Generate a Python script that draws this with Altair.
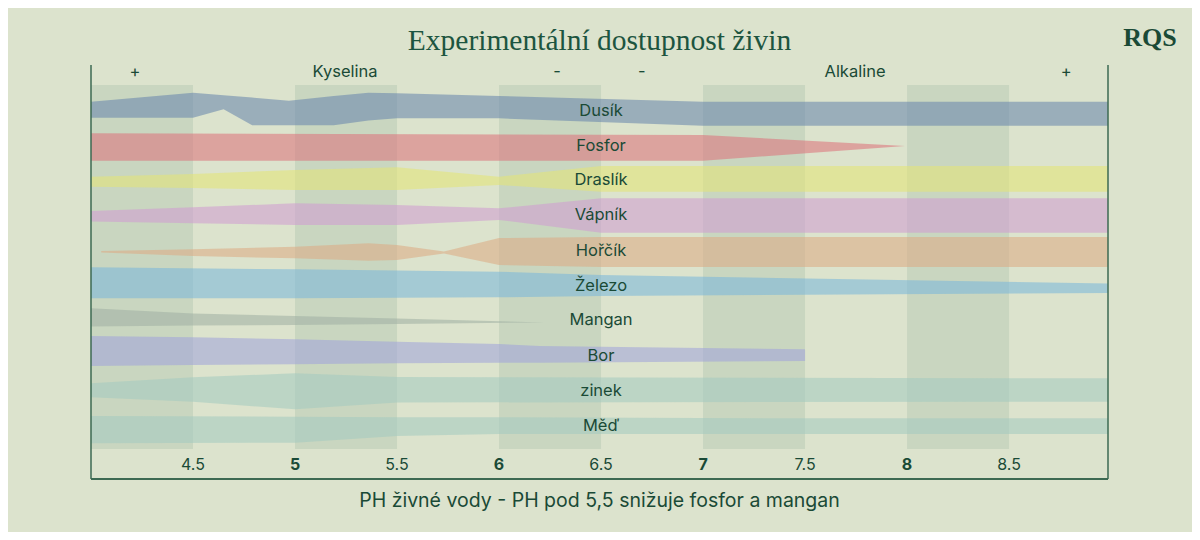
import altair as alt
import pandas as pd

# ---------------- data (y in chart units measured from the plot top, downward) ----------------
nutrients = ["Dusík", "Fosfor", "Draslík", "Vápník", "Hořčík", "Železo", "Mangan", "Bor", "zinek", "Měď"]
colors = ["#6483ac", "#dc6f79", "#e3e572", "#cf9ad2", "#dca981", "#76b7db", "#9eaea3", "#9ea2da", "#a2cac0", "#a2cac0"]

dusik_ph = [4.0, 4.5, 4.65, 4.79, 4.97, 5.19, 5.36, 5.5, 6.0, 7.0, 8.985]
dusik_top = [36.7, 27.7, 30.3, 32.6, 35.7, 31.0, 27.7, 28.3, 31.0, 36.7, 36.7]
dusik_bot = [52.7, 52.7, 44.3, 60.3, 60.3, 60.3, 55.5, 53.3, 53.3, 60.7, 60.7]

fosfor_ph = [4.0, 7.0, 7.99]
fosfor_top = [68.3, 70.0, 81.0]
fosfor_bot = [95.7, 95.7, 81.0]

draslik_ph = [4.0, 4.5, 5.0, 5.5, 6.0, 6.5, 8.985]
draslik_top = [111.7, 109.0, 105.0, 102.3, 111.7, 101.0, 101.0]
draslik_bot = [121.7, 123.0, 125.0, 125.0, 120.0, 126.7, 126.7]

vapnik_ph = [4.0, 4.5, 5.0, 5.5, 6.0, 6.5, 8.985]
vapnik_top = [146.0, 142.3, 138.3, 140.0, 143.3, 133.3, 133.3]
vapnik_bot = [156.5, 158.3, 160.0, 160.0, 155.0, 167.7, 167.7]

horcik_ph = [4.05, 4.5, 5.0, 5.36, 5.5, 5.73, 6.0, 6.5, 8.985]
horcik_top = [186.0, 184.3, 181.7, 178.3, 180.0, 186.5, 173.0, 172.0, 172.0]
horcik_bot = [187.5, 191.0, 193.3, 195.7, 195.0, 188.5, 200.0, 202.0, 202.0]

zelezo_ph = [4.0, 5.0, 6.0, 6.5, 8.985]
zelezo_top = [202.3, 204.3, 206.7, 210.0, 218.5]
zelezo_bot = [233.3, 233.3, 232.3, 231.0, 228.0]

mangan_ph = [4.0, 4.5, 5.0, 5.5, 6.22]
mangan_top = [243.3, 248.5, 251.0, 253.5, 257.5]
mangan_bot = [261.5, 260.5, 260.0, 259.0, 257.5]

bor_ph = [4.0, 4.5, 5.0, 5.5, 6.0, 6.2, 7.5]
bor_top = [271.0, 272.3, 274.3, 276.7, 279.0, 281.0, 284.3]
bor_bot = [301.0, 300.0, 299.3, 298.3, 297.7, 297.7, 296.0]

zinek_ph = [4.0, 4.5, 5.0, 5.5, 8.985]
zinek_top = [318.3, 312.3, 308.3, 312.0, 313.3]
zinek_bot = [332.3, 336.7, 344.3, 337.5, 336.7]

med_ph = [4.0, 5.0, 5.5, 6.0, 7.3, 8.985]
med_top = [351.0, 351.7, 352.3, 352.3, 353.3, 353.3]
med_bot = [378.3, 377.7, 371.0, 369.0, 369.0, 369.0]

label_ph = 6.5
label_y = [46, 81, 115, 150, 186, 221, 255, 291, 326, 361]

band_start = [4.0, 5.0, 6.0, 7.0, 8.0]
band_end = [4.5, 5.5, 6.5, 7.5, 8.5]

top_texts = ["+", "Kyselina", "-", "-", "Alkaline", "+"]
top_ph = [4.216, 5.245, 6.284, 6.70, 7.745, 8.78]

tick_vals = [4.5, 5, 5.5, 6, 6.5, 7, 7.5, 8, 8.5]
tick_labels = ["4.5", "5", "5.5", "6", "6.5", "7", "7.5", "8", "8.5"]
tick_bold = [False, True, False, True, False, True, False, True, False]

title_text = "Experimentální dostupnost živin"
axis_title = "PH živné vody - PH pod 5,5 snižuje fosfor a mangan"

# ---------------- build tables ----------------
series = [
    (dusik_ph, dusik_top, dusik_bot), (fosfor_ph, fosfor_top, fosfor_bot),
    (draslik_ph, draslik_top, draslik_bot), (vapnik_ph, vapnik_top, vapnik_bot),
    (horcik_ph, horcik_top, horcik_bot), (zelezo_ph, zelezo_top, zelezo_bot),
    (mangan_ph, mangan_top, mangan_bot), (bor_ph, bor_top, bor_bot),
    (zinek_ph, zinek_top, zinek_bot), (med_ph, med_top, med_bot),
]

XMIN, XMAX = 4.0, 8.985
W, H = 1017, 414
xs = alt.Scale(domain=[XMIN, XMAX], nice=False, zero=False)
ys = alt.Scale(domain=[0, H], nice=False, zero=False, reverse=True)
TXT = "#1a4a36"

cols_df = pd.DataFrame({"x": band_start, "x2": band_end, "y": [20] * 5, "y2": [384] * 5})
columns = alt.Chart(cols_df).mark_rect(color="#c9d6c0").encode(
    x=alt.X("x:Q", scale=xs, axis=None), x2="x2:Q", y=alt.Y("y:Q", scale=ys, axis=None), y2="y2:Q"
)

area_layers = []
for name, col, (ph, t, b) in zip(nutrients, colors, series):
    df = pd.DataFrame({"ph": ph, "top": t, "bot": b})
    area_layers.append(
        alt.Chart(df).mark_area(color=col, opacity=0.55, interpolate="linear").encode(
            x=alt.X("ph:Q", scale=xs, axis=None),
            y=alt.Y("top:Q", scale=ys, axis=None, stack=None),
            y2=alt.Y2("bot"),
        )
    )

labels_df = pd.DataFrame({"nutrient": nutrients, "ph": [label_ph] * len(nutrients), "y": label_y})
top_df = pd.DataFrame({"t": top_texts, "ph": top_ph, "y": [7] * len(top_texts)})
ticks_df = pd.DataFrame({"v": tick_vals, "t": tick_labels, "b": tick_bold, "y": [400] * len(tick_vals)})

band_labels = alt.Chart(labels_df).mark_text(
    font="Inter", fontSize=16.5, fontWeight="normal", color=TXT, align="center", baseline="middle"
).encode(x=alt.X("ph:Q", scale=xs), y=alt.Y("y:Q", scale=ys), text="nutrient:N")

top_labels = alt.Chart(top_df).mark_text(
    font="Inter", fontSize=16.5, fontWeight="normal", color=TXT, align="center", baseline="middle"
).encode(x=alt.X("ph:Q", scale=xs), y=alt.Y("y:Q", scale=ys), text="t:N")

tick_normal = alt.Chart(ticks_df).transform_filter("!datum.b").mark_text(
    font="Inter", fontSize=16, color=TXT, align="center", baseline="middle"
).encode(x=alt.X("v:Q", scale=xs), y=alt.Y("y:Q", scale=ys), text="t:N")

tick_boldm = alt.Chart(ticks_df).transform_filter("datum.b").mark_text(
    font="Inter", fontSize=16, fontWeight="bold", color=TXT, align="center", baseline="middle"
).encode(x=alt.X("v:Q", scale=xs), y=alt.Y("y:Q", scale=ys), text="t:N")

axis_title_mark = alt.Chart(pd.DataFrame({"t": [axis_title]})).mark_text(
    font="Inter", fontSize=19.5, color=TXT, align="center", baseline="middle"
).encode(x=alt.value(W / 2), y=alt.value(436), text="t:N")

title_mark = alt.Chart(pd.DataFrame({"t": [title_text]})).mark_text(
    font="Liberation Serif", fontSize=29.5, color="#1d5540", align="center", baseline="alphabetic"
).encode(x=alt.value(W / 2), y=alt.value(-15), text="t:N")

logo = alt.Chart(pd.DataFrame({"t": ["RQS"]})).mark_text(
    font="Liberation Serif", fontSize=26, fontWeight="bold", color=TXT, align="center", baseline="middle"
).encode(x=alt.value(1059), y=alt.value(-27), text="t:N")

frame_color = "#3d6a52"
one = pd.DataFrame({"a": [0]})
left_rule = alt.Chart(one).mark_rule(color=frame_color, strokeWidth=1.5).encode(
    x=alt.value(0), y=alt.value(0), y2=alt.value(H)
)
right_rule = alt.Chart(one).mark_rule(color=frame_color, strokeWidth=1.5).encode(
    x=alt.value(W), y=alt.value(0), y2=alt.value(H)
)
bottom_rule = alt.Chart(one).mark_rule(color=frame_color, strokeWidth=2).encode(
    x=alt.value(0), x2=alt.value(W), y=alt.value(H)
)

chart = alt.layer(
    columns, *area_layers, band_labels, top_labels, tick_normal, tick_boldm,
    axis_title_mark, title_mark, logo, left_rule, right_rule, bottom_rule,
).properties(
    width=W, height=H,
    autosize=alt.AutoSizeParams(type="none"),
    padding={"left": 83, "top": 57, "right": 84, "bottom": 53},
    background="#dce3cd",
).configure_view(stroke=None)

chart.save("out.html", embed_options={"renderer": "svg", "actions": False})
